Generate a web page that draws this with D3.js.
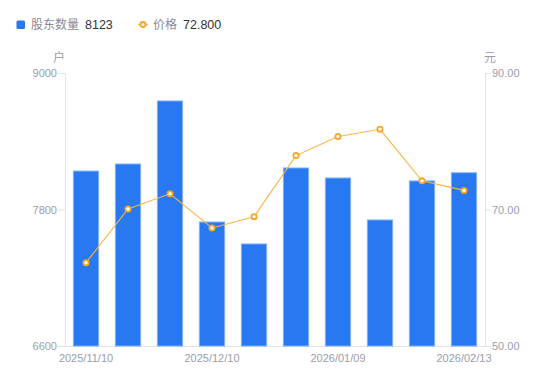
<!DOCTYPE html>
<html>
<head>
<meta charset="utf-8">
<script src="https://cdn.jsdelivr.net/npm/d3@7"></script>
<style>
  body { margin: 0; background: #fff; }
  svg { font-family: "Noto Sans CJK SC", "Noto Sans", sans-serif; }
</style>
</head>
<body>
<div id="chart"></div>
<script>
var dates = ["2025/11/10", "2025/11/20", "2025/11/28", "2025/12/10", "2025/12/19",
             "2025/12/31", "2026/01/09", "2026/01/20", "2026/01/30", "2026/02/13"];
var holders = [8138, 8200, 8754, 7690, 7497, 8165, 8077, 7708, 8051, 8123];
var prices = [62.2, 70.07, 72.3, 67.3, 68.95, 77.9, 80.7, 81.75, 74.2, 72.8];
var leftTicks = [6600, 7800, 9000];
var rightTicks = [50, 70, 90];
var tickLabels = ["2025/11/10", "2025/12/10", "2026/01/09", "2026/02/13"];

var w = 550, h = 381;
var plotL = 65, plotR = 485, plotT = 73, plotB = 346;

var svg = d3.select("#chart").append("svg")
    .attr("width", w)
    .attr("height", h);

var x = d3.scaleBand().domain(dates).range([plotL, plotR]).paddingInner(0.4).paddingOuter(0.2);
var yL = d3.scaleLinear().domain([6600, 9000]).range([plotB, plotT]);
var yR = d3.scaleLinear().domain([50, 90]).range([plotB, plotT]);

var axisColor = "#e3e3e8";
var textColor = "#9c9cab";

// left axis
var la = svg.append("g").attr("transform", "translate(" + plotL + ",0)")
    .call(d3.axisLeft(yL).tickValues(leftTicks).tickSize(7).tickPadding(1)
      .tickFormat(d3.format("d")));
// right axis
var ra = svg.append("g").attr("transform", "translate(" + plotR + ",0)")
    .call(d3.axisRight(yR).tickValues(rightTicks).tickSize(6).tickPadding(1)
      .tickFormat(d3.format(".2f")));
// bottom axis
var ba = svg.append("g").attr("transform", "translate(0," + plotB + ")")
    .call(d3.axisBottom(x).tickValues(tickLabels).tickSize(0).tickPadding(8));

[la, ra, ba].forEach(function(g){
    g.select(".domain").attr("stroke", axisColor);
    g.selectAll(".tick line").attr("stroke", axisColor);
    g.selectAll("text").attr("fill", textColor).style("font-size", "11px")
      .style("font-family", "'Liberation Sans', Arial, sans-serif");
});
ba.select(".domain").attr("d", "M" + plotL + ",0.5H" + plotR);

// units
svg.append("text").attr("x", 59).attr("y", 62).attr("text-anchor", "middle")
    .attr("fill", textColor).style("font-size", "12px").text("户");
svg.append("text").attr("x", 490).attr("y", 62).attr("text-anchor", "middle")
    .attr("fill", textColor).style("font-size", "12px").text("元");

// bars
svg.selectAll("rect.bar")
    .data(holders)
    .enter()
    .append("rect")
    .attr("class", "bar")
    .attr("x", (d, i) => x(dates[i]))
    .attr("y", d => yL(d))
    .attr("width", x.bandwidth())
    .attr("height", d => plotB - yL(d))
    .attr("fill", "#2878f2")
    .attr("stroke", "#7fb0f7")
    .attr("stroke-width", 1);

// line
var line = d3.line()
    .x((d, i) => x(dates[i]) + x.bandwidth() / 2)
    .y(d => yR(d));

svg.append("path")
    .datum(prices)
    .attr("d", line)
    .attr("fill", "none")
    .attr("stroke", "#f7b544")
    .attr("stroke-width", 1.1);

svg.selectAll("circle.pt")
    .data(prices)
    .enter()
    .append("circle")
    .attr("class", "pt")
    .attr("cx", (d, i) => x(dates[i]) + x.bandwidth() / 2)
    .attr("cy", d => yR(d))
    .attr("r", 2.6)
    .attr("fill", "#fff")
    .attr("stroke", "#f5a623")
    .attr("stroke-width", 1.8);

// legend
var lg = svg.append("g");
lg.append("rect").attr("x", 16.5).attr("y", 20.5).attr("width", 8.5).attr("height", 8.5)
    .attr("rx", 1.5).attr("fill", "#2878f2");
lg.append("text").attr("x", 31).attr("y", 29).attr("fill", "#8a8a96")
    .style("font-size", "12px").text("股东数量");
lg.append("text").attr("x", 85).attr("y", 29).attr("fill", "#333")
    .style("font-size", "12.5px").style("font-family", "'Liberation Sans', Arial, sans-serif")
    .text(holders[holders.length - 1]);

lg.append("line").attr("x1", 138).attr("x2", 148).attr("y1", 24.5).attr("y2", 24.5)
    .attr("stroke", "#f8b94a").attr("stroke-width", 1.5);
lg.append("circle").attr("cx", 143).attr("cy", 24.5).attr("r", 2.5)
    .attr("fill", "#fff").attr("stroke", "#f5a623").attr("stroke-width", 1.8);
lg.append("text").attr("x", 153).attr("y", 29).attr("fill", "#8a8a96")
    .style("font-size", "12px").text("价格");
lg.append("text").attr("x", 183).attr("y", 29).attr("fill", "#333")
    .style("font-size", "12.5px").style("font-family", "'Liberation Sans', Arial, sans-serif")
    .text(d3.format(".3f")(prices[prices.length - 1]));
</script>
</body>
</html>
